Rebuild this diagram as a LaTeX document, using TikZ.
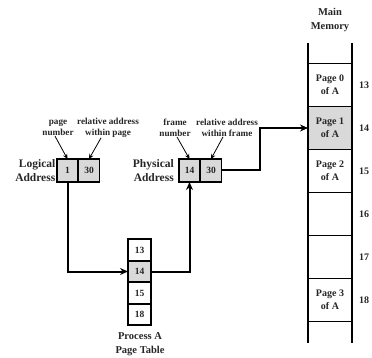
\documentclass[tikz,border=0pt]{standalone}
\usepackage{fontspec}
\setmainfont{Liberation Serif}
\usetikzlibrary{arrows.meta}
\begin{document}
\begin{tikzpicture}[x=1pt,y=-1pt,
  lbl/.style={font=\fontsize{9.2}{11}\selectfont\bfseries, align=center, inner sep=0, text=black!85},
  big/.style={font=\fontsize{11.5}{14}\selectfont\bfseries, align=right, inner sep=0, text=black!85},
  captxt/.style={font=\fontsize{10.5}{13.5}\selectfont\bfseries, align=center, inner sep=0, text=black!85},
  acell/.style={draw, line width=1.6pt, minimum width=21pt, minimum height=23pt, inner sep=0, outer sep=0, fill=gray!30, font=\fontsize{9.5}{10}\selectfont\bfseries, text=black!85},
  pcell/.style={draw, line width=1.6pt, minimum width=23pt, minimum height=21.5pt, inner sep=0, outer sep=0, fill=white, font=\fontsize{9.5}{10}\selectfont\bfseries, text=black!85},
  mcell/.style={draw, line width=1.6pt, minimum width=44pt, minimum height=43pt, inner sep=0, outer sep=0, fill=white, align=center, font=\fontsize{10}{13}\selectfont\bfseries, text=black!85},
  num/.style={font=\fontsize{10}{11}\selectfont\bfseries, inner sep=0, anchor=west, text=black!85},
  conn/.style={line width=2pt, -{Stealth[length=8pt,width=7pt]}},
  thin/.style={line width=0.8pt, -{Stealth[length=5pt,width=4.5pt]}},
  memline/.style={line width=1.6pt}
]
\useasboundingbox (0,0) rectangle (372,358);

% logical address
\node[acell] (la) at (67.5,170.5) {1};
\node[acell] (lb) at (89,170.5) {30};
\node[big, anchor=east] (ltxt) at (55.5,170.5) {Logical\\Address};
\node[lbl] (pn) at (58,128) {page\\number};
\node[lbl] (rp) at (108,128) {relative address\\within page};
\draw[thin] ([xshift=-3pt]pn.south) -- (la.north);
\draw[thin] ([xshift=-7pt]rp.south) -- (lb.north);

% physical address
\node[acell] (pa) at (189.5,170.5) {14};
\node[acell] (pb) at (211,170.5) {30};
\node[big, anchor=east] (ptxt) at (174,170.5) {Physical\\Address};
\node[lbl] (fn) at (175,128) {frame\\number};
\node[lbl] (rf) at (227,128) {relative address\\within frame};
\draw[thin] ([xshift=2pt]fn.south) -- (pa.north);
\draw[thin] ([xshift=-4pt]rf.south) -- (pb.north);

% page table
\node[pcell] (t0) at (139.5,250) {13};
\node[pcell, fill=gray!30] (t1) at (139.5,271.5) {14};
\node[pcell] (t2) at (139.5,293) {15};
\node[pcell] (t3) at (139.5,314.5) {18};
\node[captxt] (ptcap) at (140,344) {Process A\\Page Table};

% main memory
\coordinate (mtl) at (308,43);
\coordinate (mtr) at (352,43);
\coordinate (mbl) at (308,343);
\coordinate (mbr) at (352,343);
\node[mcell] (m0) at (330,85) {Page 0\\of A};
\node[mcell, fill=gray!30] (m1) at (330,128) {Page 1\\of A};
\node[mcell] (m2) at (330,171) {Page 2\\of A};
\node[mcell] (m3) at (330,214) {};
\node[mcell] (m4) at (330,257) {};
\node[mcell] (m5) at (330,300) {Page 3\\of A};
\draw[memline] (mtl) -- (mbl);
\draw[memline] (mtr) -- (mbr);
\node[captxt] (mmcap) at (330,20) {Main\\Memory};
\node[num] (n0) at ([xshift=7pt]m0.east) {13};
\node[num] (n1) at ([xshift=7pt]m1.east) {14};
\node[num] (n2) at ([xshift=7pt]m2.east) {15};
\node[num] (n3) at ([xshift=7pt]m3.east) {16};
\node[num] (n4) at ([xshift=7pt]m4.east) {17};
\node[num] (n5) at ([xshift=7pt]m5.east) {18};

% connectors
\coordinate (bx) at (260,0);
\draw[conn] (la.south) -- (la.south |- t1.west) -- (t1.west);
\draw[conn] (t1.east) -| (pa.south);
\draw[conn] (pb.east) -- (pb.east -| bx) |- (m1.west);
\end{tikzpicture}
\end{document}
